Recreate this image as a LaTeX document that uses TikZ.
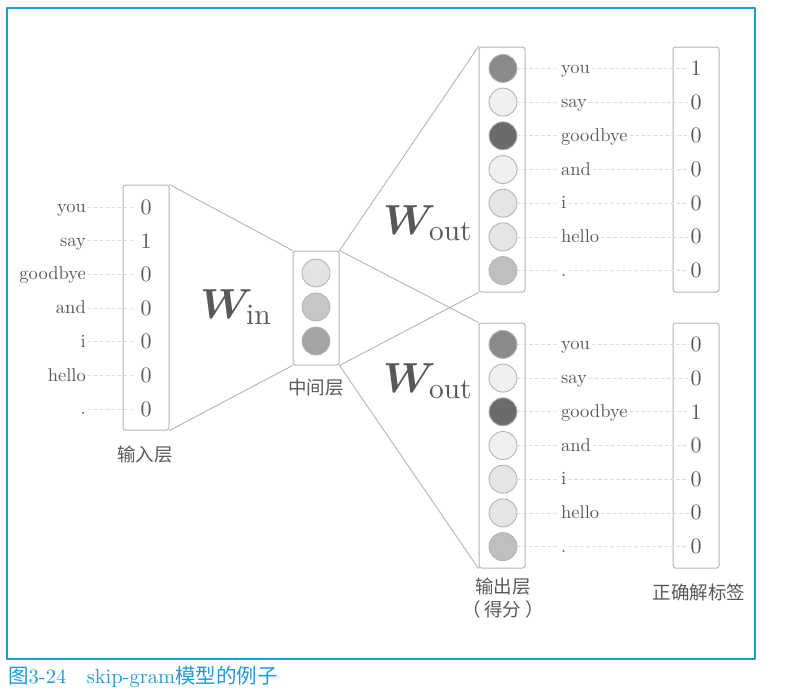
\documentclass[tikz,border=0pt]{standalone}
\usepackage{fix-cm}
\usepackage{amsmath}
\usepackage{bm}
\usepackage{fontspec}
\setmainfont{lmroman10}[Extension=.otf, UprightFont=*-regular, BoldFont=*-bold,
  ItalicFont=*-italic, BoldItalicFont=*-bolditalic]
\newfontfamily\cjk{Noto Sans CJK SC}
\definecolor{ink}{HTML}{595757}
\definecolor{edgegray}{HTML}{B4B4B4}
\definecolor{guidegray}{HTML}{DCDCDC}
\definecolor{frameblue}{HTML}{1E9AD6}
\tikzset{
  layer/.style={draw=edgegray, line width=1pt, rounded corners=2.5pt, minimum width=46pt, inner sep=0pt},
  unit/.style={circle, draw=edgegray, line width=0.9pt, minimum size=28pt, inner sep=0pt},
  num/.style={text=ink, font=\fontsize{22}{24}\selectfont, inner sep=2pt},
  word/.style={text=ink, font=\fontsize{18.5}{20}\selectfont, inner sep=2pt},
  tag/.style={text=ink, font=\cjk\fontsize{18.5}{20}\selectfont, inner sep=1pt},
  guide/.style={draw=guidegray, dashed, line width=0.8pt},
  wire/.style={draw=edgegray, line width=0.9pt},
  wlab/.style={text=ink, font=\fontsize{42}{44}\selectfont, inner sep=0pt, anchor=base west}
}
\begin{document}
\begin{tikzpicture}[x=1pt,y=-1pt, line join=round, line cap=round]
    \def\rowh{33.7} % row spacing
    \useasboundingbox (0,0) rectangle (788,697);
    \draw[frameblue, line width=1.2pt] (7,8) rectangle (755,659);
    % input layer
    \node[layer, minimum height=245pt] (in) at (146,307.5) {};
    \foreach \w/\v [count=\i] in {you/0,say/1,goodbye/0,and/0,i/0,hello/0,./0} {
        \node[num] (x\i) at (146,{207+\rowh*(\i-1)}) {\v};
        \node[word, anchor=base east] (xw\i) at (88,{212.5+\rowh*(\i-1)}) {\w};
        \draw[guide] (xw\i.east |- x\i) -- ([xshift=-3pt]x\i.west);
    }
    \node[tag] (inlab) at (145,455) {输入层};
    % hidden layer
    \node[layer, minimum height=114pt] (mid) at (316,308) {};
    \foreach \g [count=\i] in {11,22,36}
        \node[unit, fill=black!\g] (h\i) at (316,{273+34*(\i-1)}) {};
    \node[tag] (midlab) at (316,388) {中间层};
    % output layers + labels
    \foreach \k/\yc/\hot in {1/169.5/1, 2/445.5/3} {
        \node[layer, minimum height=245pt] (out\k) at (502,\yc) {};
        \node[layer, minimum height=245pt] (t\k) at (696,\yc) {};
        \foreach \w/\g [count=\i] in {you/46,say/6,goodbye/58,and/6,i/10,hello/10,./25} {
            \pgfmathsetmacro\ry{\yc-101.1+\rowh*(\i-1)}
            \pgfmathtruncatemacro\bit{\i==\hot ? 1 : 0}
            \node[unit, fill=black!\g] (o\k\i) at (503,\ry) {};
            \node[word, anchor=base west] (ow\k\i) at (559,\ry+5.5) {\w};
            \node[num] (y\k\i) at (696,\ry) {\bit};
            \draw[guide] (o\k\i.east) -- (ow\k\i.west |- o\k\i);
            \draw[guide] (ow\k\i.east |- o\k\i) -- (y\k\i.west);
        }
    }
    \node[tag] (outlab) at (503,587) {输出层};
    \node[tag] (outsub) at (503,609) {（\hspace{4pt}得分\hspace{4pt}）};
    \node[tag] (tlab) at (699,592) {正确解标签};
    % weights
    \draw[wire] (in.north east) -- (mid.north west);
    \draw[wire] (in.south east) -- (mid.south west);
    \draw[wire] (mid.north east) -- (out1.north west);
    \draw[wire] (mid.south east) -- (out1.south west);
    \draw[wire] (mid.north east) -- (out2.north west);
    \draw[wire] (mid.south east) -- (out2.south west);
    \node[wlab] (win) at (200,318) {$\bm{W}_{\mathrm{in}}$};
    \node[wlab] (wout1) at (383,234) {$\bm{W}_{\mathrm{out}}$};
    \node[wlab] (wout2) at (383,392) {$\bm{W}_{\mathrm{out}}$};
    % caption
    \node[anchor=west, text=frameblue, font=\fontsize{20.5}{22}\selectfont, inner sep=0pt] (cap) at (8,677)
        {{\cjk 图}3-24\quad skip-gram{\cjk 模型的例子}};
\end{tikzpicture}
\end{document}
